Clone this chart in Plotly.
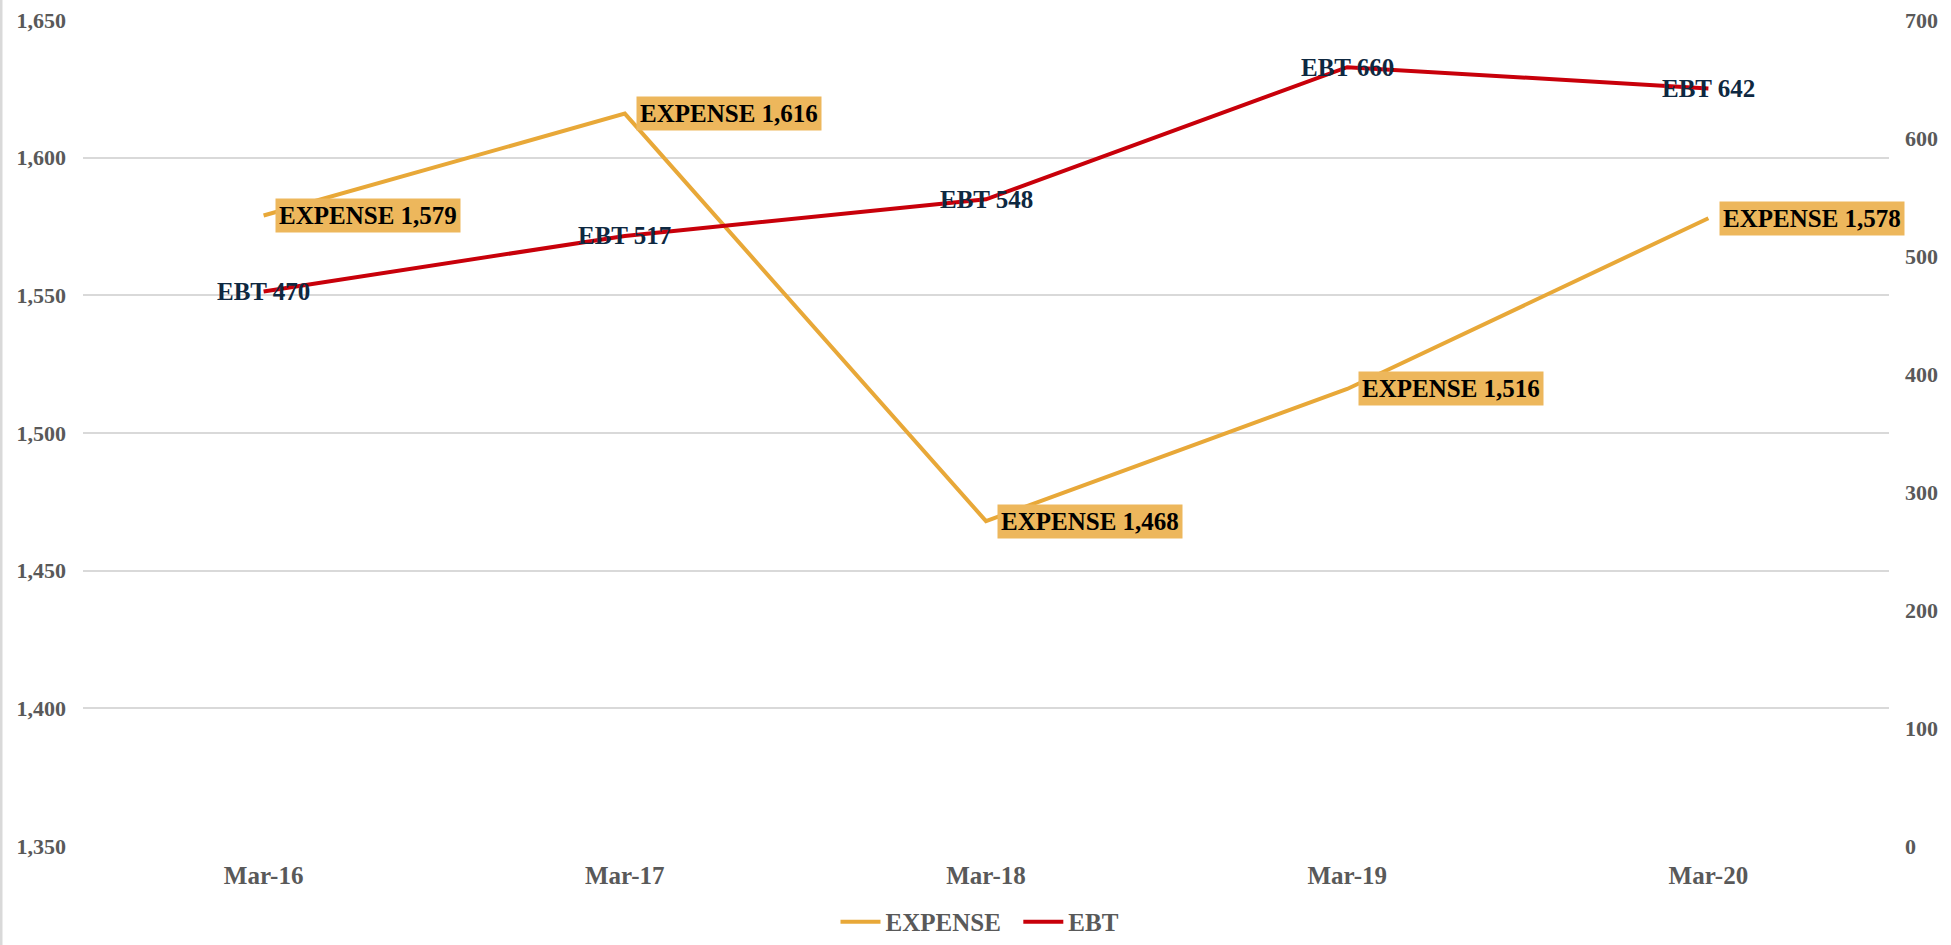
import plotly.graph_objects as go

categories = ["Mar-16", "Mar-17", "Mar-18", "Mar-19", "Mar-20"]
expense = [1579, 1616, 1468, 1516, 1578]
ebt = [470, 517, 548, 660, 642]
left_ticks = [1350, 1400, 1450, 1500, 1550, 1600, 1650]
right_ticks = [0, 100, 200, 300, 400, 500, 600, 700]

FONT = "Liberation Serif"
EXP_COLOR = "#E8A838"
EXP_BG = "#EDB75C"
EBT_COLOR = "#C8000A"
EBT_TEXT = "#0E2841"
TICK_COLOR = "#595959"
GRID = "#D9D9D9"

fig = go.Figure()
fig.add_trace(go.Scatter(
    x=categories, y=expense, name="EXPENSE\u00a0\u00a0", mode="lines",
    line=dict(color=EXP_COLOR, width=4), yaxis="y", hoverinfo="skip"))
fig.add_trace(go.Scatter(
    x=categories, y=ebt, name="EBT", mode="lines",
    line=dict(color=EBT_COLOR, width=4), yaxis="y2", hoverinfo="skip"))

annotations = []
for c, v in zip(categories, expense):
    annotations.append(dict(
        x=c, y=v, xref="x", yref="y", text=f"EXPENSE {v:,}",
        showarrow=False, xanchor="left", yanchor="middle", xshift=11,
        bgcolor=EXP_BG, borderpad=3,
        font=dict(family=FONT, size=25, color="#000000", weight="bold")))
for c, v in zip(categories, ebt):
    annotations.append(dict(
        x=c, y=v, xref="x", yref="y2", text=f"EBT {v:,}",
        showarrow=False, xanchor="center", yanchor="middle",
        font=dict(family=FONT, size=25, color=EBT_TEXT, weight="bold")))

fig.update_layout(
    width=1951, height=945,
    margin=dict(l=83, r=62, t=20, b=99, autoexpand=False),
    paper_bgcolor="white", plot_bgcolor="white",
    font=dict(family=FONT, color=TICK_COLOR),
    showlegend=True,
    legend=dict(orientation="h", x=(980 - 83) / 1806, xanchor="center", y=-0.092,
                yanchor="middle",
                font=dict(family=FONT, size=25, color=TICK_COLOR, weight="bold"),
                itemwidth=40, tracegroupgap=0),
    xaxis=dict(type="category", range=[-0.5, 4.5], showgrid=False, zeroline=False,
               showline=False, ticks="", ticklabelstandoff=12,
               tickfont=dict(family=FONT, size=25, color=TICK_COLOR, weight="bold")),
    yaxis=dict(range=[1350, 1650], tickvals=left_ticks, tickformat=",",
               showgrid=True, gridcolor=GRID, gridwidth=1.5, zeroline=False,
               showline=False, ticks="", ticklabelstandoff=16,
               tickfont=dict(family=FONT, size=22, color=TICK_COLOR, weight="bold")),
    yaxis2=dict(range=[0, 700], tickvals=right_ticks, overlaying="y", side="right",
                showgrid=False, zeroline=False, showline=False, ticks="",
                ticklabelstandoff=15,
                tickfont=dict(family=FONT, size=22, color=TICK_COLOR, weight="bold")),
    annotations=annotations,
    shapes=[dict(type="line", xref="paper", yref="paper",
                 x0=-82/1806, x1=-82/1806, y0=-99/826, y1=1 + 20/826,
                 line=dict(color=GRID, width=3))],
)

fig.write_html("out.html", config={"displayModeBar": False},
               post_script="document.body.style.margin='0';document.body.style.overflow='hidden';")
